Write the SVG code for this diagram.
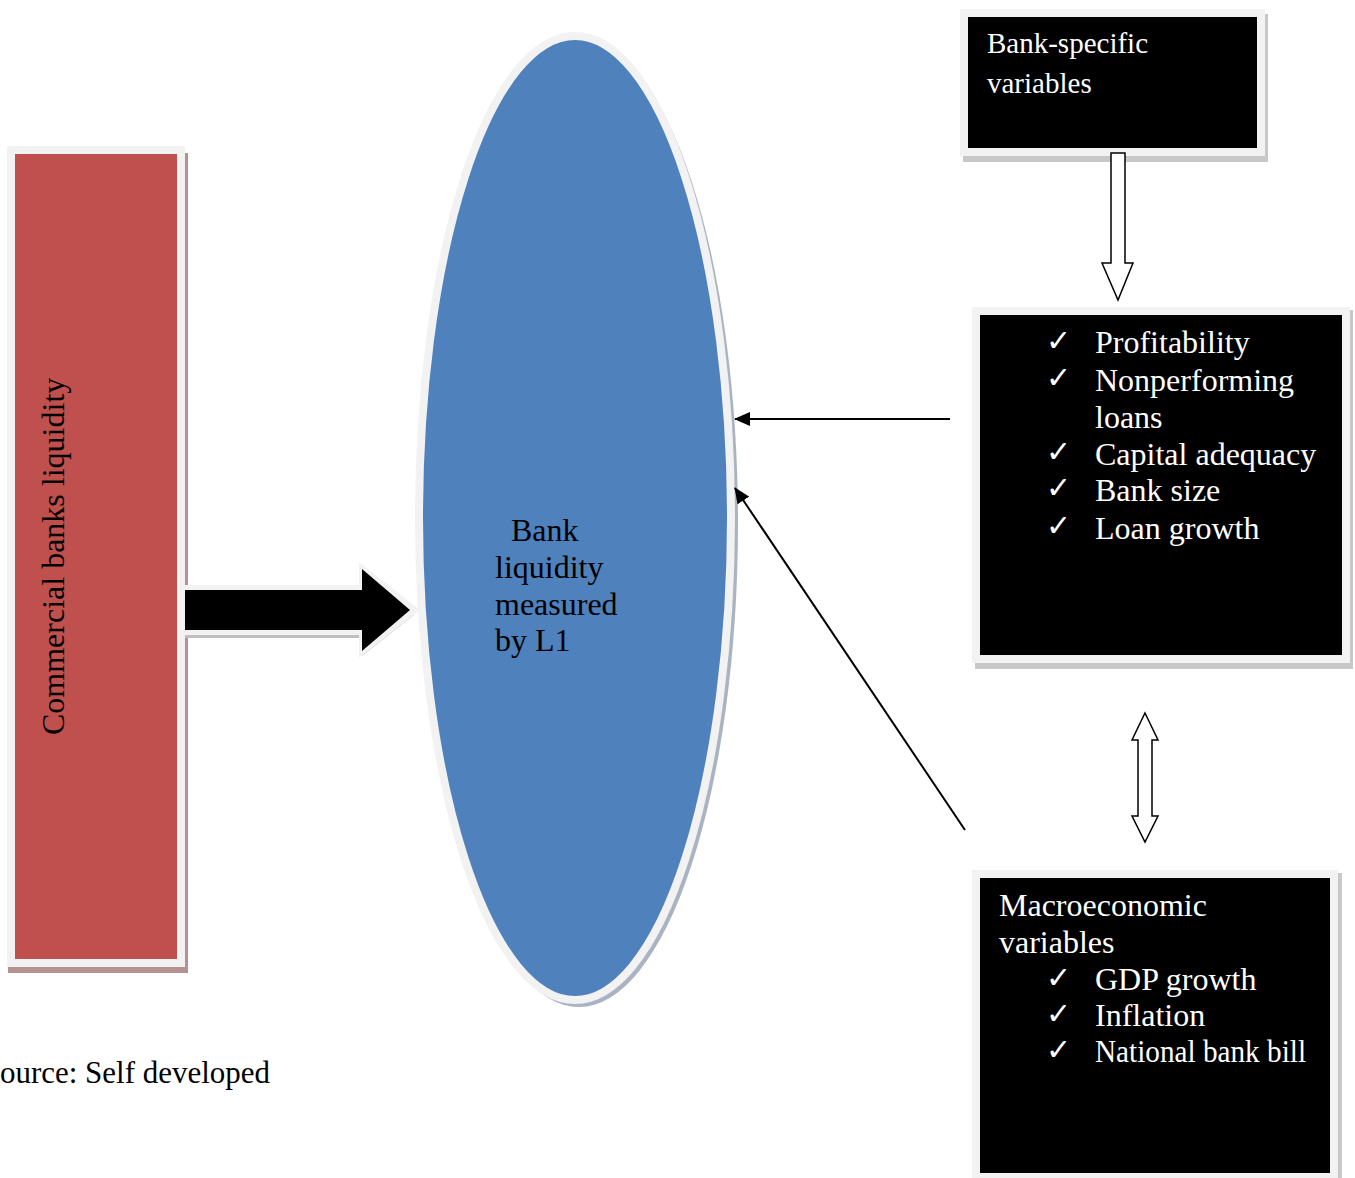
<svg xmlns="http://www.w3.org/2000/svg" width="1355" height="1178" viewBox="0 0 1355 1178">
<style>
.t{font-family:"Liberation Serif","Times New Roman",serif;font-size:32px}
.w{fill:#ffffff}
.k{fill:#000000}
.chk{font-family:"DejaVu Sans",sans-serif;font-size:30px;fill:#ffffff}
.frame{stroke:#f2f2f2;stroke-width:8}
.thin{stroke:#000;stroke-width:2;fill:none}
.hollow{fill:#fff;stroke:#000;stroke-width:1.5}
</style>
<defs>
<marker id="ah2" markerWidth="16" markerHeight="14" refX="15" refY="7" orient="auto" markerUnits="userSpaceOnUse" viewBox="0 0 16 14">
<path d="M0,0 L16,7 L0,14 Z" fill="#000"/>
</marker>
</defs>
<rect width="1355" height="1178" fill="#fff"/>

<g id="commercial">
<rect x="8" y="153" width="180" height="820" fill="#b49292"/>
<rect x="11" y="150" width="170" height="813" fill="#c0504d" class="frame"/>
<text class="t k" transform="translate(64,735) rotate(-90)">Commercial banks liquidity</text>
</g>

<g id="liquidity">
<ellipse cx="579" cy="523" rx="159" ry="484" fill="#a9b3c2"/>
<ellipse cx="575" cy="518" rx="156" ry="482" fill="#4f81bd" class="frame" stroke-width="7"/>
<text class="t k"><tspan x="511" y="541">Bank</tspan><tspan x="495" y="578">liquidity</tspan><tspan x="495" y="615">measured</tspan><tspan x="495" y="651">by L1</tspan></text>
</g>

<g id="bankspecific">
<rect x="963" y="14" width="305" height="148" fill="#c8c8c8"/>
<rect x="964" y="13" width="297" height="139" fill="#000" class="frame" stroke-width="7"/>
<text class="t w" style="font-size:29px"><tspan x="987" y="53">Bank-specific</tspan><tspan x="987" y="93">variables</tspan></text>
</g>

<g id="bankvars">
<rect x="975" y="310" width="378" height="359" fill="#c8c8c8"/>
<rect x="976" y="311" width="370" height="348" fill="#000" class="frame"/>
<g class="chk"><text x="1046" y="351">✓</text><text x="1046" y="388">✓</text><text x="1046" y="462">✓</text><text x="1046" y="498">✓</text><text x="1046" y="536">✓</text></g>
<text class="t w"><tspan x="1095" y="353">Profitability</tspan><tspan x="1095" y="391">Nonperforming</tspan><tspan x="1095" y="428">loans</tspan><tspan x="1095" y="465">Capital adequacy</tspan><tspan x="1095" y="501">Bank size</tspan><tspan x="1095" y="539">Loan growth</tspan></text>
</g>

<g id="macro">
<rect x="975" y="873" width="367" height="310" fill="#c8c8c8"/>
<rect x="976" y="874" width="358" height="303" fill="#000" class="frame"/>
<g class="chk"><text x="1046" y="988">✓</text><text x="1046" y="1024">✓</text><text x="1046" y="1060">✓</text></g>
<text class="t w"><tspan x="999" y="916">Macroeconomic</tspan><tspan x="999" y="953">variables</tspan><tspan x="1095" y="990">GDP growth</tspan><tspan x="1095" y="1026">Inflation</tspan></text>
<text class="t w" x="1095" y="1062" textLength="211" lengthAdjust="spacingAndGlyphs">National bank bill</text>
</g>

<g id="connectors">
<path d="M185,592 L362,592 L362,574 L414,615 L362,656 L362,638 L185,638 Z" fill="#bfbfbf"/>
<path d="M185,585 L359,585 L359,562 L420,610 L359,658 L359,635 L185,635 Z" fill="#f2f2f2"/>
<path d="M185,590 L362,590 L362,569 L410,610 L362,651 L362,630 L185,630 Z" fill="#000"/>
<line x1="950" y1="419" x2="735" y2="419" class="thin" marker-end="url(#ah2)"/>
<line x1="965" y1="830" x2="735" y2="488" class="thin" marker-end="url(#ah2)"/>
<path d="M1111,153 L1125,153 L1125,263 L1133,263 L1118,300 L1102,263 L1111,263 Z" class="hollow"/>
<path d="M1145,713 L1158,740 L1152,740 L1152,816 L1158,816 L1145,842 L1132,816 L1138,816 L1138,740 L1132,740 Z" class="hollow"/>
</g>

<text id="source" class="t k" x="0" y="1083" textLength="270" lengthAdjust="spacingAndGlyphs">ource: Self developed</text>
</svg>
